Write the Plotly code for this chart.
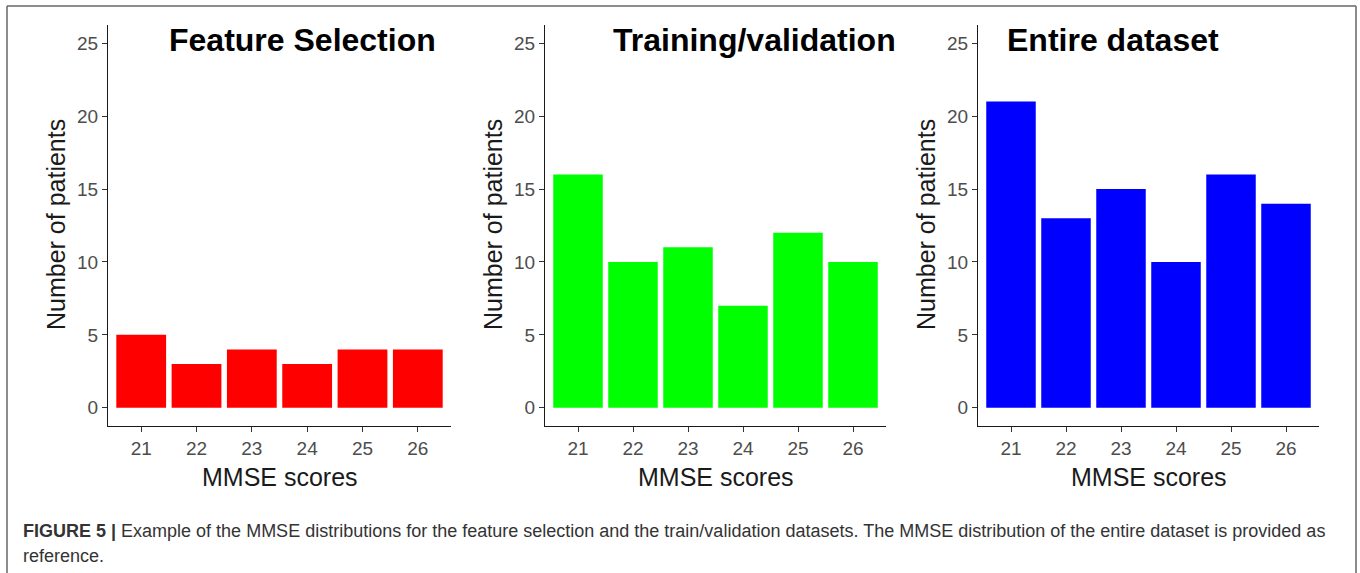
import plotly.graph_objects as go

# MMSE score categories and patient counts per dataset
mmse_scores = [21, 22, 23, 24, 25, 26]
feature_selection = [5, 3, 4, 3, 4, 4]
training_validation = [16, 10, 11, 7, 12, 10]
entire_dataset = [21, 13, 15, 10, 16, 14]

panel_titles = ["Feature Selection", "Training/validation", "Entire dataset"]
y_ticks = [0, 5, 10, 15, 20, 25]

W, H = 1360, 573
FONT = "Liberation Sans, Arial"

def px_x(v):
    return v / W

def px_y(v):
    return 1 - v / H

domains = [(108, 451), (545, 886), (978, 1319)]
colors = ["#FF0000", "#00FF00", "#0000FF"]
series = [feature_selection, training_validation, entire_dataset]
title_centers = [302, 754, 1113]

fig = go.Figure()

for i, (vals, col) in enumerate(zip(series, colors)):
    n = "" if i == 0 else str(i + 1)
    fig.add_trace(go.Bar(x=mmse_scores, y=vals, marker_color=col,
                         marker_line_width=0, width=0.9,
                         xaxis="x" + n, yaxis="y" + n, showlegend=False))

axis_common = dict(showline=True, linecolor="#1a1a1a", linewidth=1.3,
                   ticks="outside", ticklen=5, tickcolor="#333333", tickwidth=1.2,
                   showgrid=False, zeroline=False,
                   tickfont=dict(family=FONT, size=19, color="#4d4d4d"))

layout = dict(width=W, height=H, margin=dict(l=0, r=0, t=0, b=0),
              plot_bgcolor="white", paper_bgcolor="white", bargap=0.1)

for i, (d0, d1) in enumerate(domains):
    n = "" if i == 0 else str(i + 1)
    layout["xaxis" + n] = dict(axis_common, domain=[px_x(d0), px_x(d1)],
                               range=[20.4, 26.6], tickvals=mmse_scores,
                               anchor="y" + n)
    layout["yaxis" + n] = dict(axis_common, domain=[px_y(426), px_y(25)],
                               range=[-1.25, 26.25], tickvals=y_ticks,
                               anchor="x" + n)

fig.update_layout(**layout)

annotations = []
for i, (d0, d1) in enumerate(domains):
    annotations.append(dict(text="<b>" + panel_titles[i] + "</b>", xref="paper", yref="paper",
                            x=px_x(title_centers[i]), y=px_y(40), showarrow=False,
                            xanchor="center", yanchor="middle",
                            font=dict(family=FONT, size=32, color="black")))
    annotations.append(dict(text="MMSE scores", xref="paper", yref="paper",
                            x=px_x((d0 + d1) / 2), y=px_y(477), showarrow=False,
                            xanchor="center", yanchor="middle",
                            font=dict(family=FONT, size=25, color="#1a1a1a")))
    annotations.append(dict(text="Number of patients", xref="paper", yref="paper",
                            x=px_x(d0 - 52), y=px_y(225), showarrow=False, textangle=-90,
                            xanchor="center", yanchor="middle",
                            font=dict(family=FONT, size=25, color="#1a1a1a")))

caption1 = ("<b>FIGURE 5 |</b> Example of the MMSE distributions for the feature selection and the "
            "train/validation datasets. The MMSE distribution of the entire dataset is provided as")
caption2 = "reference."
annotations.append(dict(text=caption1, xref="paper", yref="paper", x=px_x(21), y=px_y(531),
                        showarrow=False, xanchor="left", yanchor="middle",
                        font=dict(family=FONT, size=18, color="#333333")))
annotations.append(dict(text=caption2, xref="paper", yref="paper", x=px_x(21), y=px_y(556),
                        showarrow=False, xanchor="left", yanchor="middle",
                        font=dict(family=FONT, size=18, color="#333333")))
fig.update_layout(annotations=annotations)

# outer frame (open at the bottom)
frame = dict(color="#666666", width=1.5)
fig.add_shape(type="line", xref="paper", yref="paper", x0=px_x(7), x1=px_x(1356),
              y0=px_y(6), y1=px_y(6), line=frame)
fig.add_shape(type="line", xref="paper", yref="paper", x0=px_x(7), x1=px_x(7),
              y0=px_y(6), y1=-0.05, line=frame)
fig.add_shape(type="line", xref="paper", yref="paper", x0=px_x(1356), x1=px_x(1356),
              y0=px_y(6), y1=-0.05, line=frame)

fig.write_html("out.html", config={"displayModeBar": False},
               post_script="document.body.style.margin='0px';")
